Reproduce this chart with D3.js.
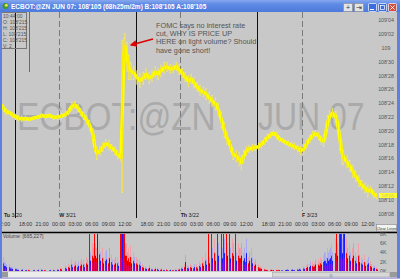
<!DOCTYPE html>
<html>
<head>
<meta charset="utf-8">
<script src="https://cdn.jsdelivr.net/npm/d3@7"></script>
<style>
  body { margin: 0; background: #c8c8c8; overflow: hidden; }
  svg { display: block; font-family: "Liberation Sans", Arial, sans-serif; }
</style>
</head>
<body>
<svg id="chart" width="400" height="279"></svg>
<script>
// price bars: time in trading hours since Tue 12:00 (session break removed), price in 32nds above 108
const priceTime = [-0.4,0,0.5,1.1,1.6,2.2,2.7,3.3,4.0,4.7,
  5.5,6.2,6.9,7.6,8.4,9.1,9.8,10.5,11.3,11.8,
  12.4,12.9,13.5,14.0,14.5,15.1,15.6,16.2,16.5,16.9,
  17.5,18.0,18.5,19.1,19.6,20.2,20.7,21.3,21.5,21.8,
  22.0,22.4,22.7,23.1,23.6,24.2,24.7,25.3,25.8,26.4,
  26.9,27.5,28.0,28.5,29.1,29.6,30.2,30.7,31.3,31.8,
  32.4,32.9,33.5,34.0,34.5,35.1,35.6,36.2,36.7,37.3,
  37.8,38.4,38.9,39.5,40.0,40.5,41.1,41.6,42.2,42.7,
  43.1,43.5,44.0,44.5,45.1,45.6,46.2,46.7,47.3,47.8,
  48.4,48.9,49.5,50.0,50.5,51.1,51.6,52.2,52.7,53.3,
  53.8,54.4,54.9,55.5,56.0,56.5,57.1,57.6,58.0,58.4,
  58.7,59.1,59.6,60.2,60.5,60.9,61.3,61.6,62.2,62.7,
  63.3,63.8,64.4,64.9,65.5,66.0,66.5,67.1,67.6];
const priceHigh = [24.8,23.8,23.3,23.0,22.8,22.5,22.3,22.2,22.2,22.0,
  22.2,22.3,22.6,22.5,22.6,22.3,22.5,22.6,22.9,23.3,
  24.2,24.3,23.9,23.3,22.8,22.3,21.6,20.4,18.7,17.8,
  17.8,18.4,18.8,18.7,18.1,17.8,17.2,16.8,33.2,33.5,
  34.2,32.9,31.0,30.0,29.4,28.8,28.4,28.6,29.1,28.6,
  28.8,29.4,29.1,29.6,30.0,30.0,29.7,29.6,30.0,29.7,
  29.1,28.6,28.1,28.3,27.8,27.1,26.7,26.4,26.2,25.7,
  25.2,24.8,24.1,22.8,21.3,19.9,18.7,17.5,17.2,17.0,
  16.5,17.2,17.8,18.0,18.1,18.1,18.3,18.6,19.1,19.6,
  19.9,20.1,19.9,19.3,19.0,18.7,18.6,18.4,18.3,18.0,
  17.8,18.0,18.7,19.4,20.0,20.1,19.9,19.3,19.4,20.9,
  22.3,23.0,23.3,22.9,22.3,20.9,18.7,17.2,16.5,15.8,
  15.1,14.3,13.6,12.9,12.5,12.2,12.0,11.4,11.0];
const priceLow = [22.8,22.8,22.3,22.3,21.9,21.6,21.4,21.3,21.4,21.4,
  21.6,21.7,21.9,21.7,21.9,21.6,21.6,21.7,22.0,22.3,
  23.0,23.3,22.8,22.2,21.6,20.9,20.1,18.7,17.0,15.8,
  16.4,17.0,17.5,17.2,17.0,16.5,15.9,15.5,11.0,28.8,
  30.3,28.6,27.4,27.4,27.4,26.7,26.2,26.7,27.4,26.8,
  27.1,27.7,27.4,27.8,28.3,28.6,28.3,28.4,28.7,28.1,
  27.7,27.1,26.4,26.8,26.2,25.7,25.1,24.9,24.5,23.9,
  23.5,23.0,22.2,20.4,19.0,18.0,17.0,15.8,15.5,14.9,
  14.3,15.5,16.4,16.8,17.0,17.1,17.2,17.5,18.0,18.4,
  19.0,19.3,18.8,18.4,18.3,18.0,17.7,17.4,17.2,17.0,
  16.5,16.8,17.5,18.3,18.8,19.1,18.7,18.0,17.7,18.7,
  20.1,21.3,21.9,21.3,20.1,17.2,15.1,15.1,14.6,14.1,
  13.2,12.6,11.9,11.4,11.0,10.4,11.0,10.3,10.1];
// volume (thousands of contracts) at the same times
const volUp = [5.5,3,2,1.5,1,0.8,0.5,0.4,0.3,0.4,
  0.3,0.2,0.5,0.3,0.2,0.4,0.5,0.8,1.2,1.5,
  2.5,1.8,1.5,2,2.5,3,8,6,8,5,
  6.5,5,4,3,3.5,2.5,3,8,8,8,
  8,6,5,5.5,4,3,2.5,1.5,1,0.8,
  0.6,0.5,0.8,0.4,0.3,0.5,0.2,0.3,0.4,0.5,
  1,1.5,1.2,1.5,1,1.5,2,3,4,8,
  8,7,8,8,8,8,8,7,8,6,
  5,4,3.5,3,5,2,1.5,1,0.6,0.4,
  0.3,0.2,0.4,0.3,0.2,0.3,0.5,0.4,0.3,0.6,
  0.8,1,1.2,1.5,2,1.8,2.5,3,3.5,4,
  5,4.5,6,7,8,8,8,8,7,6,
  5,4,6,3,3.5,2.5,2,1,0.8];
const volDown = [3,2,1.5,1,0.8,0.6,0.4,0.5,0.3,0.2,
  0.3,0.4,0.3,0.2,0.3,0.2,0.4,0.6,0.8,1.2,
  1.5,2.2,2,2.5,1.5,2.5,4,5,6,8,
  4,3,4.5,5,2.5,3,2,8,8,8,
  6,4,3.5,3,3,2.5,2,1.2,0.8,1.2,
  0.5,0.8,0.4,0.6,0.3,0.2,0.4,0.2,0.3,0.6,
  0.8,3.5,1,1.2,1.5,1,1.5,2,2.5,3,
  5,4,6,5,7,6,5,6,4,5,
  6,5,7,4,3,2.5,1,0.8,0.4,0.3,
  0.4,0.3,0.2,0.3,0.2,0.4,0.3,0.5,0.3,0.4,
  0.5,0.8,1.5,2,1.5,2.5,2,2.5,4,3,
  4,5,4,5,6,8,7,8,5,4,
  6,3,3.5,2.5,2,3,1.5,1.2,0.5];

const priceTicks = [8,10,12,14,16,18,20,22,24,26,28,30,32,34,36];
const volTicks = [0,2,4,6,8];
const clockLabels = ["12:00","18:00","21:00","00:00","03:00","06:00","09:00"];
const clockOffsets = [0,4,7,10,13,16,19];   // hours after 12:00 in a 22h trading day
const dayLabels = [["Tu","3/20"],["W","3/21"],["Th","3/22"],["F","3/23"]];
const dayLabelHours = [0,10,32,54];
const dayStarts = [10,32,54];
const sessionBreaks = [2,24,46];
const infoLines = ["10:44:00","O: 108'215","H: 108'215","L: 108'215","C: 108'215","V: 2"];
const noteLines = ["FOMC says no interest rate","cut, WHY IS PRICE UP","HERE on light volume? Should","have gone short!"];
const lastPrice = 10.5;

const svg = d3.select("#chart");
const defs = svg.append("defs");
const x = d3.scaleLinear().domain([0, 66]).range([3.5, 367.8]);
const y = d3.scaleLinear().domain([8, 36]).range([213.8, 20.6]);
const yVol = d3.scaleLinear().domain([0, 8.2]).range([271, 233]);

const bars = priceTime.map((t, i) => ({ t, hi: priceHigh[i], lo: priceLow[i], up: volUp[i], dn: volDown[i] }));

const fmt32 = v => {
  const big = v >= 32 ? 109 : 108;
  const r = v >= 32 ? v - 32 : v;
  return r === 0 ? String(big) : big + "'" + String(r).padStart(2, "0");
};

svg.append("rect").attr("width", 400).attr("height", 279).attr("fill", "#c8c8c8");

// watermark (squeezed horizontally like the original)
svg.append("text").attr("transform", "translate(17,130) scale(0.855,1)")
  .attr("font-size", 39).attr("fill", "#aaaaaa").text("ECBOT:@ZN");
svg.append("text").attr("transform", "translate(258,130) scale(0.82,1)")
  .attr("font-size", 39).attr("fill", "#aaaaaa").text("JUN 07");

// session break and day lines
svg.selectAll(".brk").data(sessionBreaks).enter().append("line")
  .attr("x1", d => Math.round(x(d)) + 0.5).attr("x2", d => Math.round(x(d)) + 0.5)
  .attr("y1", 12).attr("y2", 218).attr("stroke", "#111").attr("stroke-width", 1);
svg.selectAll(".day").data(dayStarts).enter().append("line")
  .attr("x1", d => Math.round(x(d)) + 0.5).attr("x2", d => Math.round(x(d)) + 0.5)
  .attr("y1", 12).attr("y2", 211).attr("stroke", "#7a7a7a").attr("stroke-width", 1)
  .attr("stroke-dasharray", "6,3");
svg.append("line").attr("x1", 29.5).attr("x2", 29.5).attr("y1", 12).attr("y2", 72)
  .attr("stroke", "#6a6a6a").attr("stroke-width", 1);

// price: thin high-low bars plus a thick yellow trace through each bar's midpoint
svg.selectAll(".hl").data(bars).enter().append("line")
  .attr("x1", d => x(d.t)).attr("x2", d => x(d.t))
  .attr("y1", d => y(d.hi)).attr("y2", d => y(d.lo))
  .attr("stroke", "#f4f070").attr("stroke-width", 1.2);
svg.append("path").datum(bars)
  .attr("d", d3.line().x(d => x(d.t)).y(d => y((d.hi + d.lo) / 2)))
  .attr("fill", "none").attr("stroke", "#ffff00").attr("stroke-width", 3.4)
  .attr("stroke-linejoin", "round");
svg.selectAll(".hlc").data(bars).enter().append("line")
  .attr("x1", d => x(d.t)).attr("x2", d => x(d.t))
  .attr("y1", d => y(d.hi) + 1).attr("y2", d => y(d.lo) - 1)
  .attr("stroke", "#f0c800").attr("stroke-width", 0.7).attr("opacity", 0.6);

// price axis
svg.selectAll(".pt").data(priceTicks).enter().append("text")
  .attr("x", 386).attr("y", d => y(d)).attr("dy", "0.35em")
  .attr("text-anchor", "middle").attr("font-size", 5.3).attr("fill", "#555")
  .text(fmt32);
svg.append("rect").attr("x", 379).attr("y", y(lastPrice) - 3.6).attr("width", 18).attr("height", 5)
  .attr("fill", "#ffff30");
svg.append("text").attr("x", 388).attr("y", y(lastPrice) - 1.1).attr("dy", "0.35em")
  .attr("text-anchor", "middle").attr("font-size", 3.6).attr("fill", "#c8c060").text("108'105");

// time axis
const timeTicks = [];
for (let d = 0; d < 4; d++) {
  clockOffsets.forEach((o, i) => {
    const t = d * 22 + o;
    if (t <= 66) timeTicks.push({ t, label: clockLabels[i] });
  });
}
svg.selectAll(".tt").data(timeTicks).enter().append("text")
  .attr("x", d => x(d.t)).attr("y", 226).attr("text-anchor", "middle")
  .attr("font-size", 5.3).attr("fill", "#333").text(d => d.label);
const dl = svg.selectAll(".dl").data(dayLabels).enter().append("text")
  .attr("x", (d, i) => x(dayLabelHours[i]) + 0.5).attr("y", 217)
  .attr("font-size", 5.3).attr("fill", "#222");
dl.append("tspan").attr("font-weight", "bold").text(d => d[0]);
dl.append("tspan").text(d => " " + d[1]);

// info box
svg.append("rect").attr("x", 1.5).attr("y", 12.5).attr("width", 25).attr("height", 36)
  .attr("fill", "none").attr("stroke", "#777");
svg.selectAll(".info").data(infoLines).enter().append("text")
  .attr("x", 3).attr("y", (d, i) => 18 + i * 5.9).attr("font-size", 5)
  .attr("fill", "#555").text(d => d);

// annotation
svg.selectAll(".note").data(noteLines).enter().append("text")
  .attr("x", 156).attr("y", (d, i) => 28 + i * 8.2).attr("font-size", 7.3)
  .attr("fill", "#555").text(d => d);
defs.append("marker").attr("id", "ah").attr("viewBox", "0 0 10 10")
  .attr("refX", 8).attr("refY", 5).attr("markerWidth", 5).attr("markerHeight", 5)
  .attr("orient", "auto").append("path").attr("d", "M0,0L10,5L0,10z").attr("fill", "#e00000");
svg.append("line").attr("x1", 153).attr("y1", 39).attr("x2", 131).attr("y2", 45)
  .attr("stroke", "#e00000").attr("stroke-width", 1.4).attr("marker-end", "url(#ah)");

// clear lines button
svg.append("rect").attr("x", 376.5).attr("y", 224.5).attr("width", 20).attr("height", 6.5)
  .attr("fill", "#f2f2f2").attr("stroke", "#888").attr("stroke-width", 0.6);
svg.append("text").attr("x", 386.5).attr("y", 229.6).attr("text-anchor", "middle")
  .attr("font-size", 4).attr("fill", "#333").text("Clear Lines");

// volume panel
svg.append("line").attr("x1", 2).attr("x2", 397).attr("y1", 232.5).attr("y2", 232.5)
  .attr("stroke", "#000").attr("stroke-width", 1.5);
const vb = svg.append("g");
bars.forEach(d => {
  const cx = Math.round(x(d.t));
  const top = v => yVol(Math.min(v, 8.2));
  vb.append("rect").attr("x", cx - 1).attr("width", 1).attr("y", top(d.up)).attr("height", 271 - top(d.up)).attr("fill", "#f0a0a8");
  vb.append("rect").attr("x", cx).attr("width", 1).attr("y", top(d.dn)).attr("height", 271 - top(d.dn)).attr("fill", "#a8a8f0");
  const du = d.up >= 7.5 ? d.up : d.up * 0.55, dd = d.dn >= 7.5 ? d.dn : d.dn * 0.55;
  vb.append("rect").attr("x", cx - 1).attr("width", 1).attr("y", top(du)).attr("height", 271 - top(du)).attr("fill", "#ff0000");
  vb.append("rect").attr("x", cx).attr("width", 1).attr("y", top(dd)).attr("height", 271 - top(dd)).attr("fill", "#1a1aff");
  const dm = Math.min(d.up, d.dn) * 0.35;
  vb.append("rect").attr("x", cx - 0.5).attr("width", 1).attr("y", top(dm)).attr("height", 271 - top(dm)).attr("fill", "#c000c0").attr("opacity", 0.8);
});
svg.append("text").attr("x", 3).attr("y", 237.5).attr("font-size", 5).attr("fill", "#444").text("Volume: [665,227]");
svg.selectAll(".vt").data(volTicks).enter().append("text")
  .attr("x", 380).attr("y", d => yVol(d)).attr("dy", "0.35em")
  .attr("font-size", 5.3).attr("fill", "#555").text(d => d + "K");

// scrollbar
svg.append("rect").attr("x", 2).attr("y", 272).attr("width", 395).attr("height", 5.5).attr("fill", "#ececec");
svg.append("rect").attr("x", 2).attr("y", 272).attr("width", 6).attr("height", 5.5).attr("fill", "#9a9a9a");
svg.append("rect").attr("x", 272.5).attr("y", 272.5).attr("width", 117).attr("height", 4.5)
  .attr("fill", "#d8d8d8").attr("stroke", "#999").attr("stroke-width", 0.5);
svg.append("text").attr("x", 331).attr("y", 276.6).attr("text-anchor", "middle").attr("font-size", 4).attr("fill", "#777").text("|||");
svg.append("rect").attr("x", 390).attr("y", 272).attr("width", 7).attr("height", 5.5).attr("fill", "#9a9a9a");
svg.append("rect").attr("x", 0).attr("y", 277.5).attr("width", 400).attr("height", 1.5).attr("fill", "#b4aee0");

// window frame
const grad = defs.append("linearGradient").attr("id", "tb").attr("x1", 0).attr("x2", 0).attr("y1", 0).attr("y2", 1);
grad.append("stop").attr("offset", 0).attr("stop-color", "#86a8ee");
grad.append("stop").attr("offset", 0.35).attr("stop-color", "#5f8ae6");
grad.append("stop").attr("offset", 1).attr("stop-color", "#4d7bdc");
svg.append("rect").attr("x", 0).attr("y", 0).attr("width", 400).attr("height", 12).attr("fill", "url(#tb)");
svg.append("rect").attr("x", 0).attr("y", 12).attr("width", 2).attr("height", 266).attr("fill", "#5f80e0");
svg.append("rect").attr("x", 397).attr("y", 12).attr("width", 3).attr("height", 266).attr("fill", "#5f80e0");
svg.append("circle").attr("cx", 5.5).attr("cy", 6).attr("r", 3).attr("fill", "#3c9a2a");
svg.append("circle").attr("cx", 6.3).attr("cy", 5.2).attr("r", 1.5).attr("fill", "#f4e040");
svg.append("text").attr("x", 11).attr("y", 9).attr("font-size", 6.5).attr("font-weight", "bold")
  .attr("fill", "#fff").text("ECBOT:@ZN   JUN 07: 108'105 (68h25m/2m)   B:108'105 A:108'105");
[343, 354].forEach(bx => {
  svg.append("rect").attr("x", bx + 0.5).attr("y", 3.5).attr("width", 9).attr("height", 8)
    .attr("fill", "#e4e4e4").attr("stroke", "#8a8a8a").attr("stroke-width", 0.6);
});
svg.append("text").attr("x", 348).attr("y", 10).attr("text-anchor", "middle").attr("font-size", 7).attr("fill", "#333").text("+");
svg.append("text").attr("x", 359).attr("y", 10).attr("text-anchor", "middle").attr("font-size", 7).attr("fill", "#333").text("⇥");
[[368, "#3a6de0"], [378, "#3a6de0"], [388, "#d84a3a"]].forEach(([bx, c]) => {
  svg.append("rect").attr("x", bx + 0.5).attr("y", 3.5).attr("width", 8).attr("height", 8)
    .attr("fill", c).attr("stroke", "#fff").attr("stroke-width", 0.7).attr("rx", 1);
});
svg.append("line").attr("x1", 370).attr("x2", 374).attr("y1", 9.5).attr("y2", 9.5).attr("stroke", "#fff");
svg.append("rect").attr("x", 380.5).attr("y", 5.5).attr("width", 4).attr("height", 4).attr("fill", "none").attr("stroke", "#fff").attr("stroke-width", 0.7);
svg.append("path").attr("d", "M390.5,5.5L394.5,9.5M394.5,5.5L390.5,9.5").attr("stroke", "#fff").attr("stroke-width", 1);
</script>
</body>
</html>
